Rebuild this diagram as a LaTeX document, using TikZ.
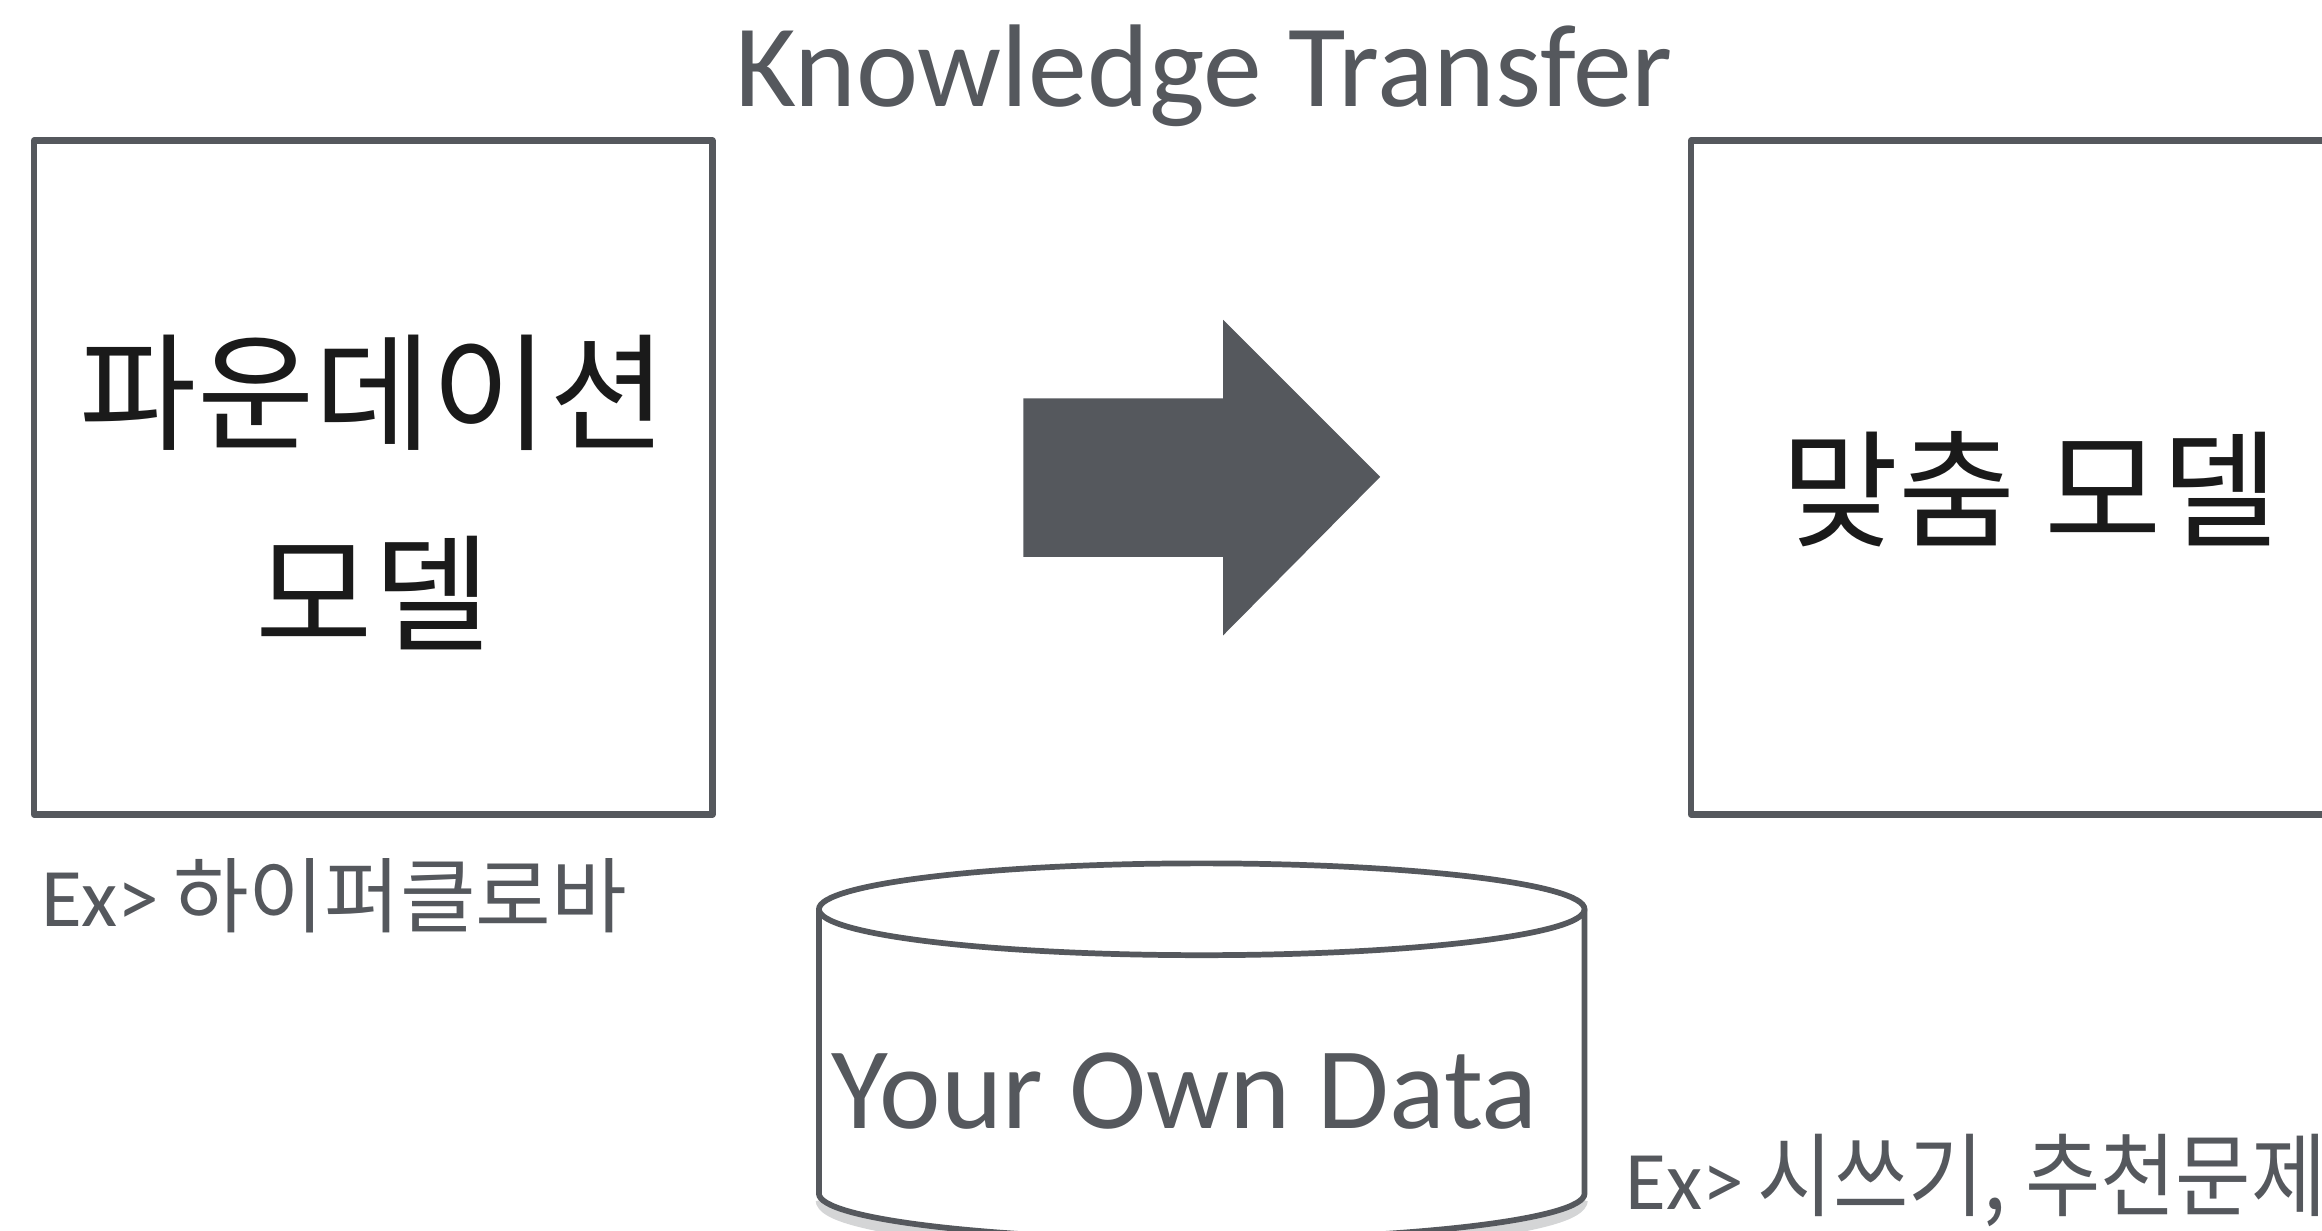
\documentclass[tikz,border=0pt]{standalone}
\usepackage{fontspec}
\setmainfont{Carlito}
\newfontfamily\kr{Noto Sans CJK KR}
\newfontfamily\krnarrow[FakeStretch=0.9]{Noto Sans CJK KR}
\usetikzlibrary{shapes.geometric}
\definecolor{slate}{HTML}{55585D}
\definecolor{ink}{HTML}{1A1A1A}
\tikzstyle{modelbox} = [rectangle, draw=slate, line width=1.25pt, line join=round, minimum width=4.58cm, minimum height=4.55cm]
\tikzstyle{modeltext} = [text=ink, font=\kr\fontsize{24.5}{38.5}\selectfont, align=center]
\tikzstyle{exnote} = [text=slate, anchor=west, inner sep=0pt, font=\fontsize{16}{19}\selectfont]
\tikzstyle{cyl} = [draw=slate, line width=1.1pt]

\begin{document}
\begin{tikzpicture}
	\useasboundingbox (0,0) rectangle (15.68,-8.31);
	\clip (0,0) rectangle (15.68,-8.31);
	\node [text=slate, font=\fontsize{22.6}{28}\selectfont, anchor=base] (title) at (8.13,-0.72) {Knowledge Transfer};
	\node [modelbox] (found) at (2.52,-3.225) {};
	\node [modeltext] (foundtxt) at ([yshift=-0.1cm]found.center) {파운데이션\\모델};
	\node [modelbox] (custom) at (13.71,-3.225) {};
	\node [modeltext] (customtxt) at ([yshift=-0.08cm]custom.center) {맞춤 모델};
	\node [exnote] (ex1) at (0.27,-6.05) {Ex>\,{\kr\fontsize{15.8}{19}\selectfont 하이퍼클로바}};
	% big arrow
	\fill[slate] (6.91,-2.69) -- (8.26,-2.69) -- (8.26,-2.16) -- (9.32,-3.22) -- (8.26,-4.29) -- (8.26,-3.76) -- (6.91,-3.76) -- cycle;
	% data store
	\draw[slate!25, line width=3pt] (5.56,-8.10) arc[start angle=180, end angle=360, x radius=2.555, y radius=0.31];
	\fill[white] (5.53,-6.14) -- (5.53,-8.06) arc[start angle=180, end angle=360, x radius=2.585, y radius=0.31] -- (10.70,-6.14) -- cycle;
	\draw[cyl] (5.53,-6.14) -- (5.53,-8.06) arc[start angle=180, end angle=360, x radius=2.585, y radius=0.31] -- (10.70,-6.14);
	\draw[cyl] (8.115,-6.14) ellipse [x radius=2.585, y radius=0.31];
	\node [text=slate, font=\fontsize{22.4}{28}\selectfont, anchor=base] (data) at (8.00,-7.62) {Your Own Data};
	\node [exnote] (ex2) at (10.97,-7.97) {Ex>\,{\krnarrow\fontsize{17.5}{20}\selectfont 시쓰기, 추천문제}};
\end{tikzpicture}
\end{document}
